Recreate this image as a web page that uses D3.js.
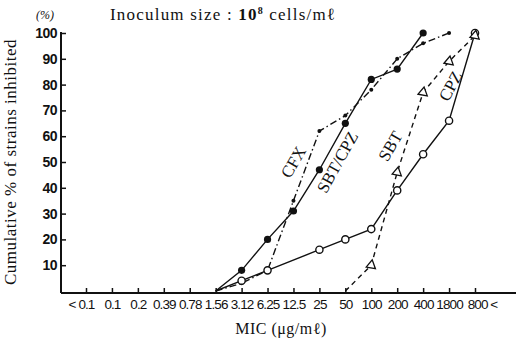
<!DOCTYPE html>
<html>
<head>
<meta charset="utf-8">
<script src="https://cdn.jsdelivr.net/npm/d3@7"></script>
<style>
  body { margin: 0; background: #fff; }
  svg { display: block; font-family: 'Liberation Serif', 'DejaVu Serif', serif; }
  .tick text { font-size: 14px; font-weight: bold; fill: #111; }
  .tick line { stroke: #111; stroke-width: 1.5; }
</style>
</head>
<body>
<svg id="canvas"></svg>
<script>
// MIC categories along the bottom axis.
var micLabels = ['< 0.1', '0.1', '0.2', '0.39', '0.78', '1.56', '3.12', '6.25',
                 '12.5', '25', '50', '100', '200', '400', '1800', '800 <'];

// Percentage ticks on the left axis.
var pctTicks = [10, 20, 30, 40, 50, 60, 70, 80, 90, 100];

// SBT/CPZ (filled circles, solid line).
var sbtCpzMic = ['1.56', '3.12', '6.25', '12.5', '25', '50', '100', '200', '400'];
var sbtCpzPct = [0, 8, 20, 31, 47, 65, 82, 86, 100];

// CFX (small dots, dash-dot line).
var cfxMic = ['1.56', '3.12', '6.25', '12.5', '25', '50', '100', '200', '400', '1800'];
var cfxPct = [0, 3, 8, 35, 62, 68, 78, 90, 96, 100];

// CPZ (open circles, solid line).
var cpzMic = ['1.56', '3.12', '6.25', '25', '50', '100', '200', '400', '1800', '800 <'];
var cpzPct = [0, 4, 8, 16, 20, 24, 39, 53, 66, 100];

// SBT (open triangles, dashed line).
var sbtMic = ['50', '100', '200', '400', '1800', '800 <'];
var sbtPct = [0, 10, 46, 77, 89, 99];

// Canvas properties.
var canvas = { width: 517, height: 338 };
var axisX = 61, axisY = 293;

var svg = d3.select('#canvas')
            .attr('width', canvas.width)
            .attr('height', canvas.height);

// Scales.
var xScale = d3.scalePoint().domain(micLabels).range([86, 475]);
var yScale = d3.scaleLinear().domain([0, 100]).range([291, 33]);

// Zip categories and values into point lists.
function zip(mics, pcts) {
  return mics.map(function(m, i) { return { mic: m, pct: pcts[i] }; });
}

// Horizontal axis.
var xAxis = d3.axisBottom(xScale).tickSizeInner(-5).tickSizeOuter(0).tickPadding(6);
var gx = svg.append('g')
    .attr('transform', 'translate(0,' + axisY + ')')
    .call(xAxis);
gx.select('.domain').remove();
gx.selectAll('.tick text')
  .style('font-size', '13.5px')
  .style('font-weight', 'normal')
  .style('letter-spacing', '-0.9px')
  .attr('dx', function(d) {
    if (d == '< 0.1') return -5;
    if (d == '800 <') return 7;
    return 0;
  });

// Vertical axis.
var yAxis = d3.axisLeft(yScale).tickValues(pctTicks).tickSizeInner(-5).tickSizeOuter(0).tickPadding(4);
var gy = svg.append('g')
    .attr('transform', 'translate(' + axisX + ',0)')
    .call(yAxis);
gy.select('.domain').remove();
gy.selectAll('.tick text').style('letter-spacing', '-0.5px');

// Axis lines.
svg.append('line')
   .attr('x1', axisX).attr('x2', 516).attr('y1', axisY).attr('y2', axisY)
   .attr('stroke', '#111').attr('stroke-width', 2);
svg.append('line')
   .attr('x1', axisX).attr('x2', axisX).attr('y1', 32).attr('y2', axisY)
   .attr('stroke', '#111').attr('stroke-width', 2);

var line = d3.line()
             .x(function(d) { return xScale(d.mic); })
             .y(function(d) { return yScale(d.pct); });

// Series lines.
function drawLine(data, dash) {
  svg.append('path')
     .datum(data)
     .attr('d', line)
     .attr('fill', 'none')
     .attr('stroke', '#111')
     .attr('stroke-width', 1.4)
     .attr('stroke-dasharray', dash);
}

var sbtCpz = zip(sbtCpzMic, sbtCpzPct);
var cfx = zip(cfxMic, cfxPct);
var cpz = zip(cpzMic, cpzPct);
var sbt = zip(sbtMic, sbtPct);

drawLine(sbtCpz, null);
drawLine(cfx, '7,3,1.5,3');
drawLine(cpz, null);
drawLine(sbt, '5,4');

// Markers (skip the zero points where the lines meet the axis).
function nonZero(d) { return d.pct > 0; }

svg.selectAll('.m-sbtcpz')
   .data(sbtCpz.filter(nonZero))
   .enter().append('circle')
   .attr('cx', function(d) { return xScale(d.mic); })
   .attr('cy', function(d) { return yScale(d.pct); })
   .attr('r', 3.6)
   .attr('fill', '#111');

svg.selectAll('.m-cfx')
   .data(cfx.filter(nonZero))
   .enter().append('circle')
   .attr('cx', function(d) { return xScale(d.mic); })
   .attr('cy', function(d) { return yScale(d.pct); })
   .attr('r', 2)
   .attr('fill', '#111');

svg.selectAll('.m-cpz')
   .data(cpz.filter(nonZero))
   .enter().append('circle')
   .attr('cx', function(d) { return xScale(d.mic); })
   .attr('cy', function(d) { return yScale(d.pct); })
   .attr('r', 3.6)
   .attr('fill', '#fff')
   .attr('stroke', '#111')
   .attr('stroke-width', 1.4);

svg.selectAll('.m-sbt')
   .data(sbt.filter(nonZero))
   .enter().append('path')
   .attr('d', d3.symbol().type(d3.symbolTriangle).size(38))
   .attr('transform', function(d) {
     return 'translate(' + xScale(d.mic) + ',' + yScale(d.pct) + ') rotate(-110)';
   })
   .attr('fill', '#fff')
   .attr('stroke', '#111')
   .attr('stroke-width', 1.3);

// Series labels.
function seriesLabel(txt, x, y, r) {
  svg.append('text')
     .attr('transform', 'translate(' + x + ',' + y + ') rotate(' + r + ')')
     .attr('text-anchor', 'middle')
     .attr('dominant-baseline', 'middle')
     .style('font-size', '17px')
     .attr('fill', '#111')
     .text(txt);
}
seriesLabel('CFX', 295, 163, -60);
seriesLabel('SBT/CPZ', 339, 163, -61);
seriesLabel('SBT', 392, 147, -60);
seriesLabel('CPZ', 452, 87, -62);

// Title.
var title = svg.append('text')
               .attr('x', 110).attr('y', 20)
               .style('font-size', '17px')
               .style('letter-spacing', '1.2px')
               .attr('fill', '#111');
title.append('tspan').text('Inoculum size  :  ');
title.append('tspan').style('font-weight', 'bold').text('10');
title.append('tspan').attr('dy', -6).style('font-size', '10px').style('font-weight', 'bold').text('8');
title.append('tspan').attr('dy', 6).text(' cells/mℓ');

// Percent unit.
svg.append('text')
   .attr('x', 45).attr('y', 19)
   .attr('text-anchor', 'middle')
   .style('font-size', '12px')
   .style('font-style', 'italic')
   .attr('fill', '#111')
   .text('(%)');

// Vertical axis title.
svg.append('text')
   .attr('transform', 'translate(16,162) rotate(-90)')
   .attr('text-anchor', 'middle')
   .style('font-size', '17px')
   .style('letter-spacing', '0.5px')
   .attr('fill', '#111')
   .text('Cumulative % of strains inhibited');

// Horizontal axis title.
svg.append('text')
   .attr('x', 281).attr('y', 334)
   .attr('text-anchor', 'middle')
   .style('font-size', '16px')
   .style('letter-spacing', '0.5px')
   .attr('fill', '#111')
   .text('MIC (μg/mℓ)');
</script>
</body>
</html>
